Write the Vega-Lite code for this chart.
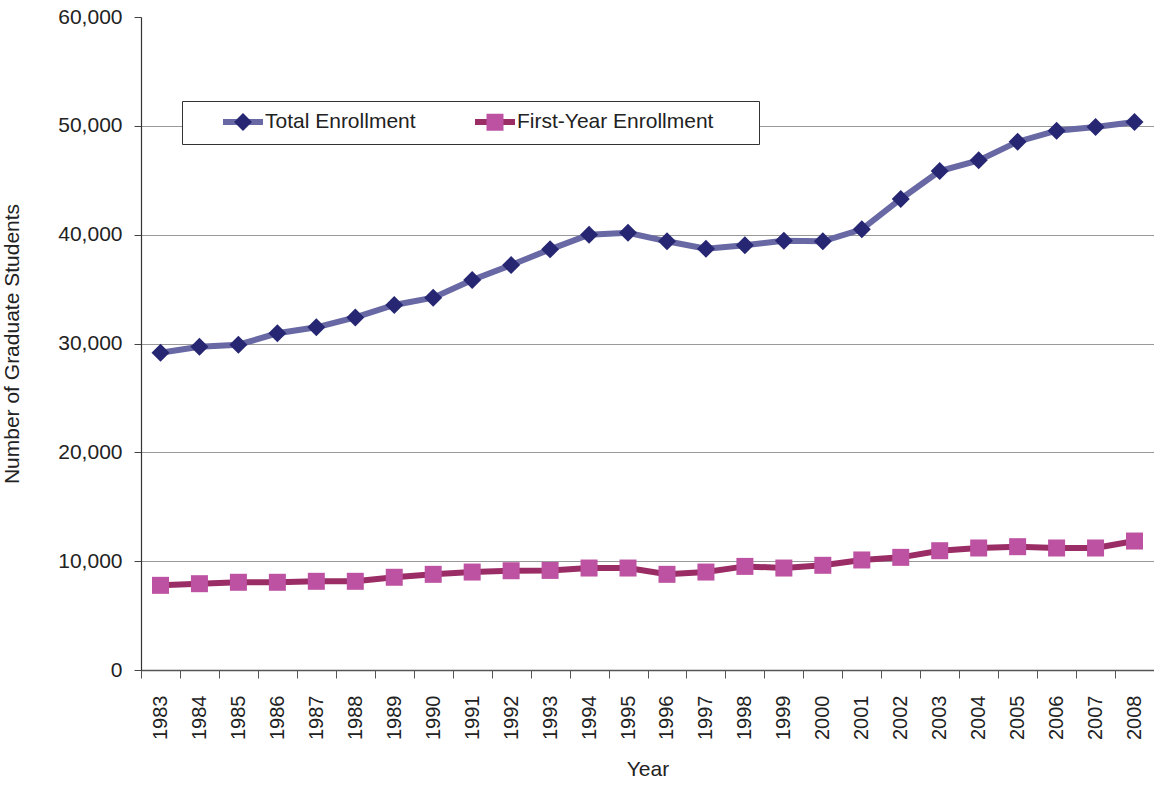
{
  "$schema": "https://vega.github.io/schema/vega-lite/v6.json",
  "width": 1013,
  "height": 653,
  "autosize": {"type": "none"},
  "padding": {"left": 141, "top": 17, "right": 0, "bottom": 115},
  "background": "white",
  "config": {
    "view": {"stroke": null},
    "font": "Liberation Sans"
  },
  "data": {
    "values": [
      {"year": "1983", "series": "Total Enrollment", "students": 29150},
      {"year": "1984", "series": "Total Enrollment", "students": 29700},
      {"year": "1985", "series": "Total Enrollment", "students": 29890},
      {"year": "1986", "series": "Total Enrollment", "students": 30940},
      {"year": "1987", "series": "Total Enrollment", "students": 31490},
      {"year": "1988", "series": "Total Enrollment", "students": 32400},
      {"year": "1989", "series": "Total Enrollment", "students": 33540},
      {"year": "1990", "series": "Total Enrollment", "students": 34210},
      {"year": "1991", "series": "Total Enrollment", "students": 35830},
      {"year": "1992", "series": "Total Enrollment", "students": 37210},
      {"year": "1993", "series": "Total Enrollment", "students": 38650},
      {"year": "1994", "series": "Total Enrollment", "students": 40000},
      {"year": "1995", "series": "Total Enrollment", "students": 40180},
      {"year": "1996", "series": "Total Enrollment", "students": 39390},
      {"year": "1997", "series": "Total Enrollment", "students": 38710},
      {"year": "1998", "series": "Total Enrollment", "students": 39020},
      {"year": "1999", "series": "Total Enrollment", "students": 39450},
      {"year": "2000", "series": "Total Enrollment", "students": 39390},
      {"year": "2001", "series": "Total Enrollment", "students": 40490},
      {"year": "2002", "series": "Total Enrollment", "students": 43280},
      {"year": "2003", "series": "Total Enrollment", "students": 45850},
      {"year": "2004", "series": "Total Enrollment", "students": 46830},
      {"year": "2005", "series": "Total Enrollment", "students": 48540},
      {"year": "2006", "series": "Total Enrollment", "students": 49550},
      {"year": "2007", "series": "Total Enrollment", "students": 49890},
      {"year": "2008", "series": "Total Enrollment", "students": 50350},
      {"year": "1983", "series": "First-Year Enrollment", "students": 7780},
      {"year": "1984", "series": "First-Year Enrollment", "students": 7930},
      {"year": "1985", "series": "First-Year Enrollment", "students": 8060},
      {"year": "1986", "series": "First-Year Enrollment", "students": 8060},
      {"year": "1987", "series": "First-Year Enrollment", "students": 8150},
      {"year": "1988", "series": "First-Year Enrollment", "students": 8150},
      {"year": "1989", "series": "First-Year Enrollment", "students": 8520},
      {"year": "1990", "series": "First-Year Enrollment", "students": 8790},
      {"year": "1991", "series": "First-Year Enrollment", "students": 9000},
      {"year": "1992", "series": "First-Year Enrollment", "students": 9120},
      {"year": "1993", "series": "First-Year Enrollment", "students": 9150},
      {"year": "1994", "series": "First-Year Enrollment", "students": 9370},
      {"year": "1995", "series": "First-Year Enrollment", "students": 9370},
      {"year": "1996", "series": "First-Year Enrollment", "students": 8790},
      {"year": "1997", "series": "First-Year Enrollment", "students": 9000},
      {"year": "1998", "series": "First-Year Enrollment", "students": 9520},
      {"year": "1999", "series": "First-Year Enrollment", "students": 9370},
      {"year": "2000", "series": "First-Year Enrollment", "students": 9620},
      {"year": "2001", "series": "First-Year Enrollment", "students": 10110},
      {"year": "2002", "series": "First-Year Enrollment", "students": 10350},
      {"year": "2003", "series": "First-Year Enrollment", "students": 10960},
      {"year": "2004", "series": "First-Year Enrollment", "students": 11210},
      {"year": "2005", "series": "First-Year Enrollment", "students": 11330},
      {"year": "2006", "series": "First-Year Enrollment", "students": 11210},
      {"year": "2007", "series": "First-Year Enrollment", "students": 11210},
      {"year": "2008", "series": "First-Year Enrollment", "students": 11850}
    ]
  },
  "encoding": {
    "x": {
      "field": "year",
      "type": "ordinal",
      "bandPosition": 0.5,
      "scale": {"type": "band", "paddingInner": 0, "paddingOuter": 0},
      "axis": {
        "title": "Year",
        "titleFont": "Liberation Sans",
        "titleFontSize": 21,
        "titleFontWeight": "normal",
        "titleColor": "#222222",
        "titlePadding": 19,
        "labelAngle": -90,
        "labelFont": "Liberation Sans",
        "labelFontSize": 20,
        "labelColor": "#222222",
        "labelPadding": 17,
        "tickBand": "extent",
        "tickSize": 8,
        "tickColor": "#555555",
        "domainColor": "#555555",
        "domainWidth": 1.5,
        "grid": false
      }
    },
    "y": {
      "field": "students",
      "type": "quantitative",
      "scale": {"domain": [0, 60000], "nice": false},
      "axis": {
        "title": "Number of Graduate Students",
        "titleFont": "Liberation Sans",
        "titleFontSize": 21,
        "titleFontWeight": "normal",
        "titleColor": "#222222",
        "titlePadding": 35,
        "values": [0, 10000, 20000, 30000, 40000, 50000, 60000],
        "format": ",.0f",
        "labelFont": "Liberation Sans",
        "labelFontSize": 21,
        "labelColor": "#222222",
        "labelPadding": 12,
        "tickSize": 7,
        "tickColor": "#444444",
        "domainColor": "#333333",
        "domainWidth": 1.2,
        "grid": true,
        "gridColor": "#999999",
        "gridWidth": 1,
        "gridOpacity": {"condition": {"test": "datum.value >= 60000 || datum.value <= 0", "value": 0}, "value": 1}
      }
    }
  },
  "layer": [
    {
      "mark": {"type": "line", "strokeWidth": 6},
      "encoding": {
        "color": {
          "field": "series",
          "type": "nominal",
          "scale": {
            "domain": ["Total Enrollment", "First-Year Enrollment"],
            "range": ["#6868a4", "#9a2c66"]
          },
          "legend": {
            "orient": "none",
            "legendX": 41,
            "legendY": 84,
            "direction": "horizontal",
            "title": null,
            "padding": 10,
            "fillColor": "white",
            "strokeColor": "#333333",
            "symbolType": "M-2.5,0H2.5",
            "symbolSize": 256,
            "symbolStrokeWidth": 6,
            "symbolOffset": 40,
            "labelOffset": 11,
            "columnPadding": 28,
            "labelFont": "Liberation Sans",
            "labelFontSize": 21,
            "labelColor": "#222222",
            "labelLimit": 400,
            "labelExpr": "datum.label == 'First-Year Enrollment' ? datum.label + '\u00a0\u00a0\u00a0\u00a0\u00a0\u00a0\u200b' : datum.label"
          }
        }
      }
    },
    {
      "mark": {"type": "point", "filled": true, "size": 256, "opacity": 1},
      "encoding": {
        "fill": {
          "field": "series",
          "type": "nominal",
          "scale": {"range": ["#bd52a3", "#262673"]},
          "legend": {
            "orient": "none",
            "legendX": 41,
            "legendY": 84,
            "direction": "horizontal",
            "title": null,
            "values": ["Total Enrollment", "First-Year Enrollment"],
            "padding": 10,
            "symbolSize": 256,
            "symbolStrokeWidth": 6,
            "symbolStrokeColor": "transparent",
            "symbolOffset": 40,
            "labelOffset": 11,
            "columnPadding": 28,
            "labelFont": "Liberation Sans",
            "labelFontSize": 21,
            "labelOpacity": 0,
            "labelLimit": 400,
            "labelExpr": "datum.label == 'First-Year Enrollment' ? datum.label + '\u00a0\u00a0\u00a0\u00a0\u00a0\u00a0\u200b' : datum.label"
          }
        },
        "shape": {
          "field": "series",
          "type": "nominal",
          "scale": {
            "range": ["M-1.0625,-1.0625H1.0625V1.0625H-1.0625Z", "M0,-1.125L1.125,0L0,1.125L-1.125,0Z"]
          },
          "legend": {
            "orient": "none",
            "legendX": 41,
            "legendY": 84,
            "direction": "horizontal",
            "title": null,
            "values": ["Total Enrollment", "First-Year Enrollment"],
            "padding": 10,
            "symbolSize": 256,
            "symbolStrokeWidth": 6,
            "symbolStrokeColor": "transparent",
            "symbolOffset": 40,
            "labelOffset": 11,
            "columnPadding": 28,
            "labelFont": "Liberation Sans",
            "labelFontSize": 21,
            "labelOpacity": 0,
            "labelLimit": 400,
            "labelExpr": "datum.label == 'First-Year Enrollment' ? datum.label + '\u00a0\u00a0\u00a0\u00a0\u00a0\u00a0\u200b' : datum.label"
          }
        }
      }
    }
  ]
}
